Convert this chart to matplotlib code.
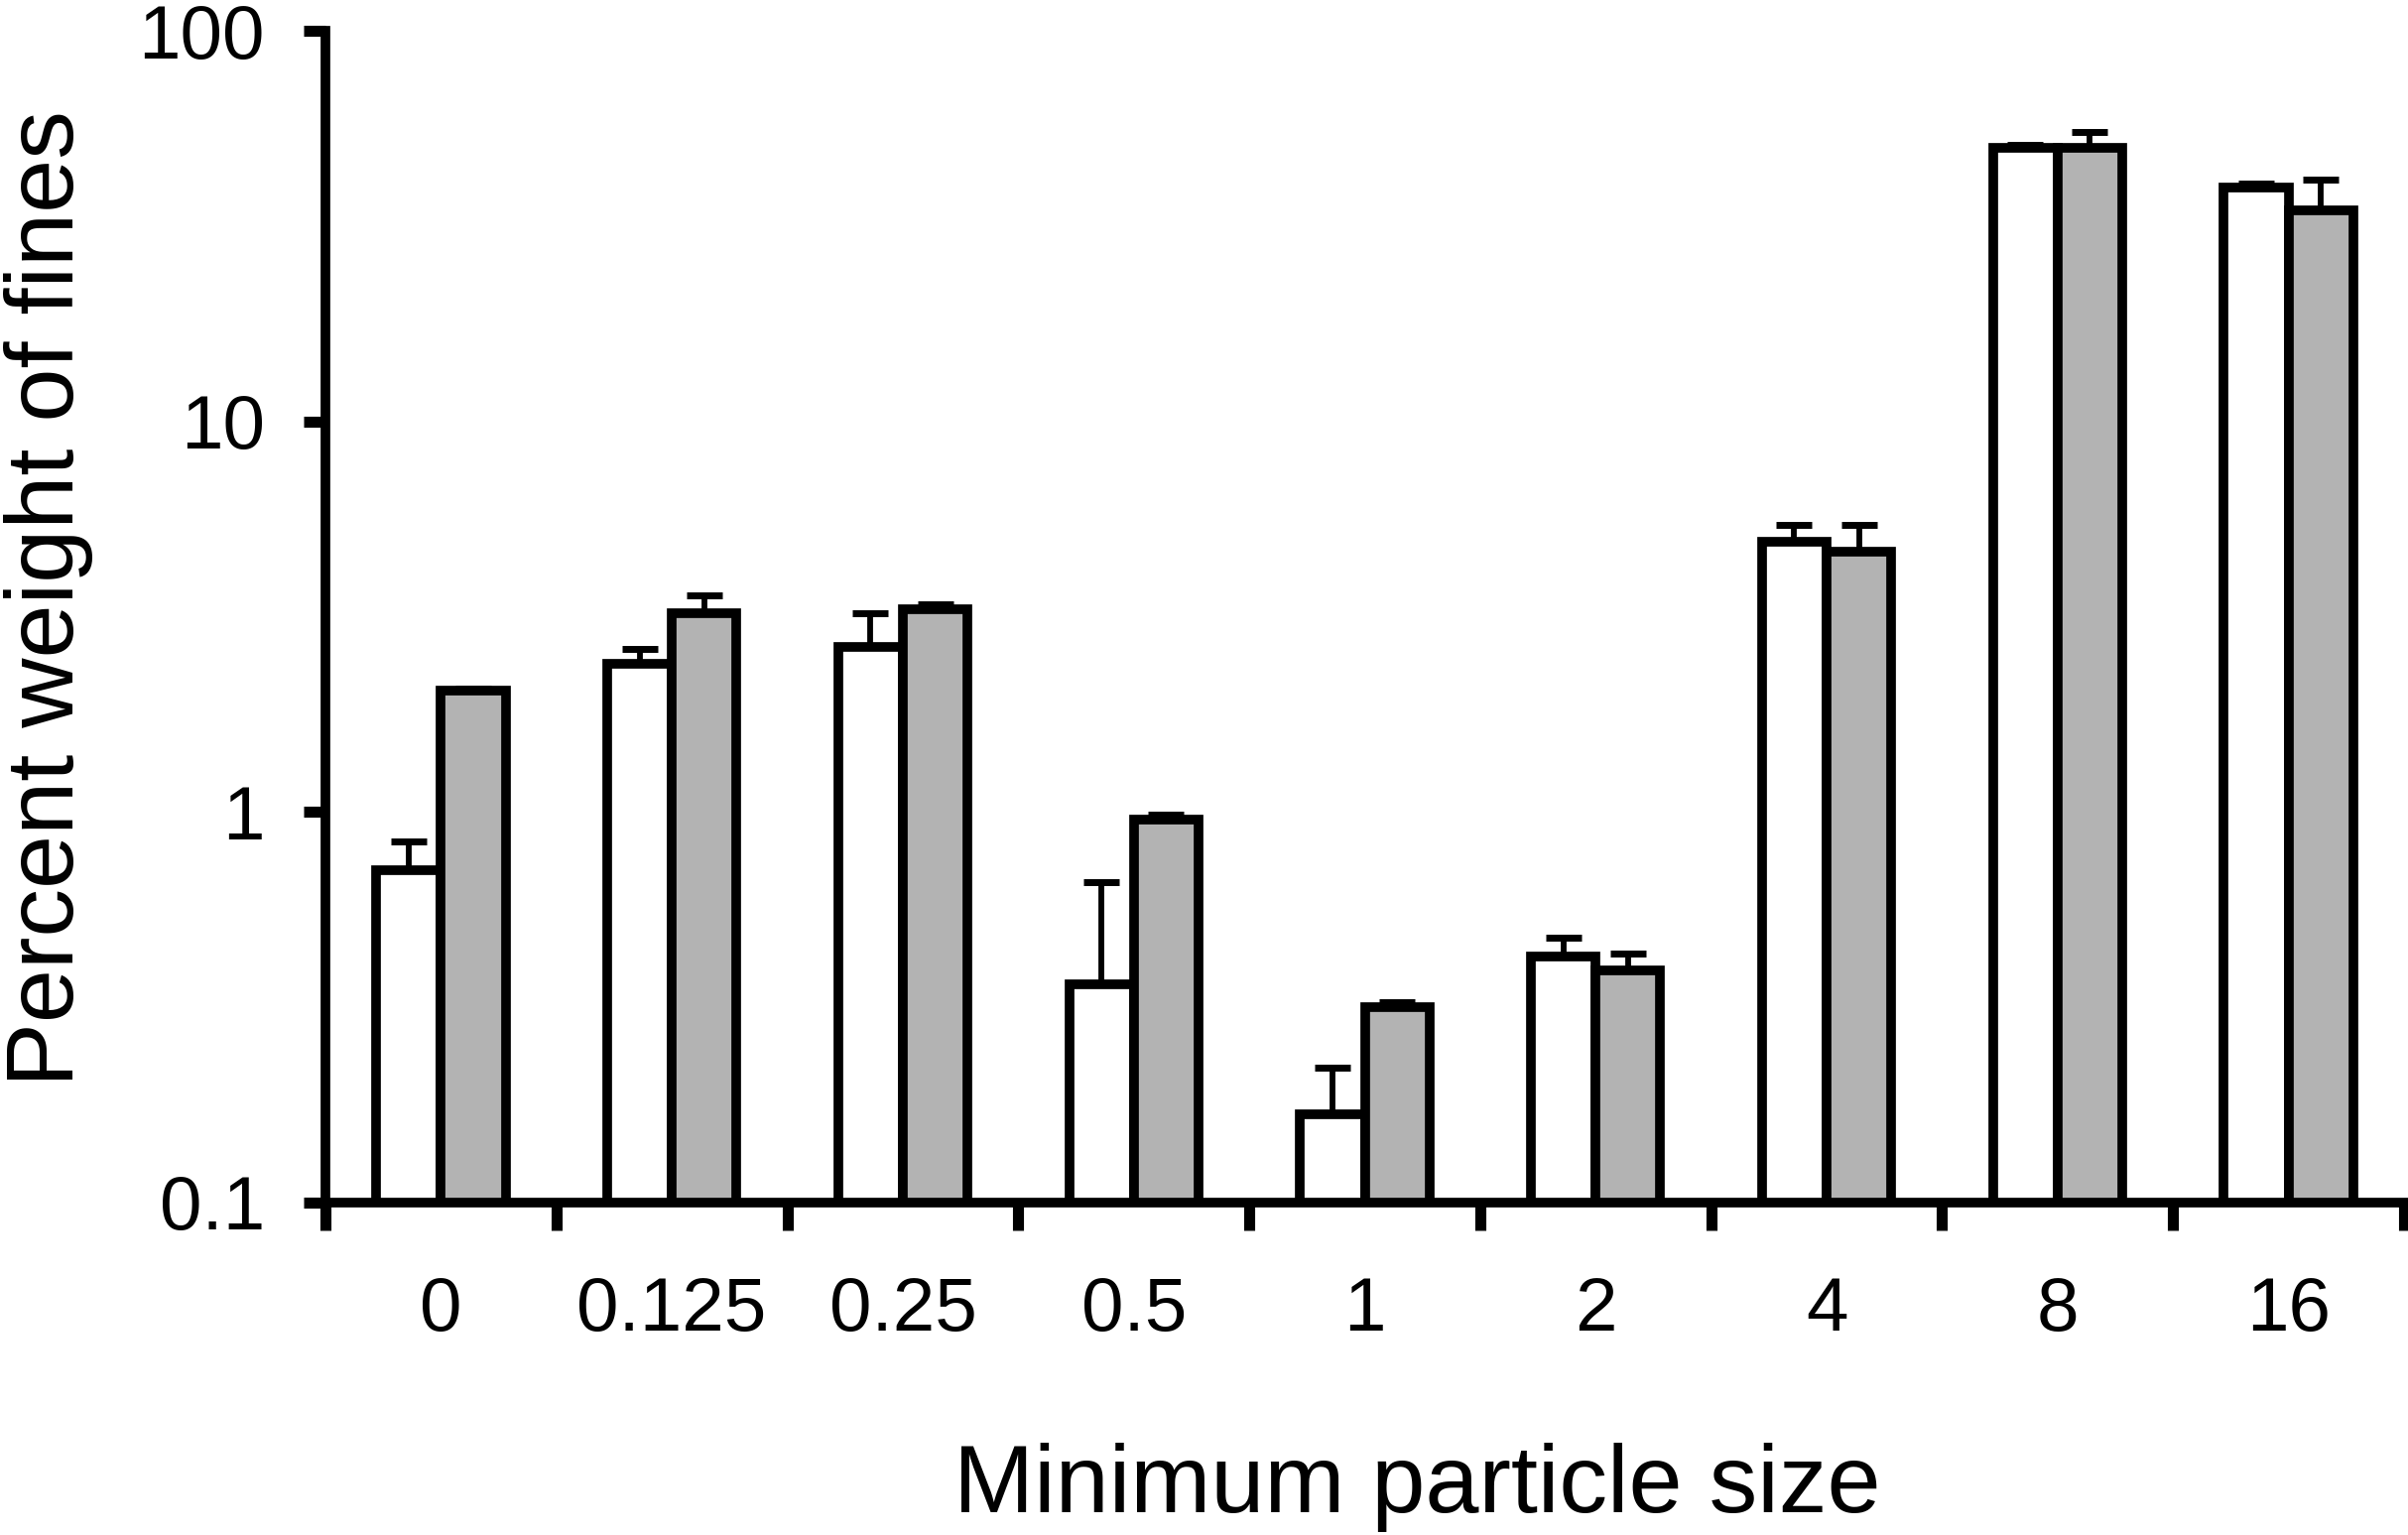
import matplotlib.pyplot as plt
import numpy as np

plt.rcParams['font.family'] = ['Liberation Sans', 'DejaVu Sans']

sizes = ['0', '0.125', '0.25', '0.5', '1', '2', '4', '8', '16']
white_vals = [0.71, 2.39, 2.64, 0.362, 0.168, 0.427, 4.93, 50.2, 39.7]
white_err = [0.13, 0.22, 0.58, 0.30, 0.053, 0.05, 0.5, 0.8, 1.0]
gray_vals = [2.05, 3.22, 3.31, 0.955, 0.316, 0.393, 4.63, 50.2, 34.6]
gray_err = [0.02, 0.37, 0.09, 0.03, 0.01, 0.04, 0.8, 5.0, 7.0]
yticks = [0.1, 1, 10, 100]
ytick_labels = ['0.1', '1', '10', '100']

fig = plt.figure(figsize=(24.27, 15.47), dpi=100)
ax = fig.add_axes([0.13515, 0.21655, 0.86321, 0.76341])

x = np.arange(len(sizes))
w = 0.28
lw = 7

ax.bar(x - w/2, white_vals, w, color='white', edgecolor='black', linewidth=lw, zorder=2)
ax.bar(x + w/2, gray_vals, w, color='#b3b3b3', edgecolor='black', linewidth=lw, zorder=2)

ax.errorbar(x - w/2, white_vals, yerr=[np.zeros(len(x)), white_err], fmt='none',
            ecolor='black', elinewidth=4.2, capsize=13, capthick=5, zorder=3)
ax.errorbar(x + w/2, gray_vals, yerr=[np.zeros(len(x)), gray_err], fmt='none',
            ecolor='black', elinewidth=4.2, capsize=13, capthick=5, zorder=3)

ax.set_yscale('log')
ax.set_ylim(0.1, 100)
ax.set_xlim(-0.5, len(sizes) - 0.5)

ax.set_yticks(yticks)
ax.set_yticklabels(ytick_labels)
ax.yaxis.set_minor_locator(plt.NullLocator())
ax.tick_params(axis='y', which='major', direction='out', length=16, width=8,
               pad=28, labelsize=55)

ax.set_xticks(np.arange(-0.5, len(sizes), 1))
ax.set_xticklabels([])
ax.set_xticks(x, minor=True)
ax.set_xticklabels(sizes, minor=True)
ax.tick_params(axis='x', which='major', direction='out', length=20, width=8)
ax.tick_params(axis='x', which='minor', length=0, pad=53, labelsize=55)

for s in ['top', 'right']:
    ax.spines[s].set_visible(False)
for s in ['left', 'bottom']:
    ax.spines[s].set_linewidth(lw)
    ax.spines[s].set_capstyle('projecting')

ax.set_ylabel('Percent weight of fines', fontsize=70)
ax.yaxis.set_label_coords(-0.1115, 0.516)
ax.set_xlabel('Minimum particle size', fontsize=70)
ax.xaxis.set_label_coords(0.525, -0.205)

plt.savefig('out.png')
